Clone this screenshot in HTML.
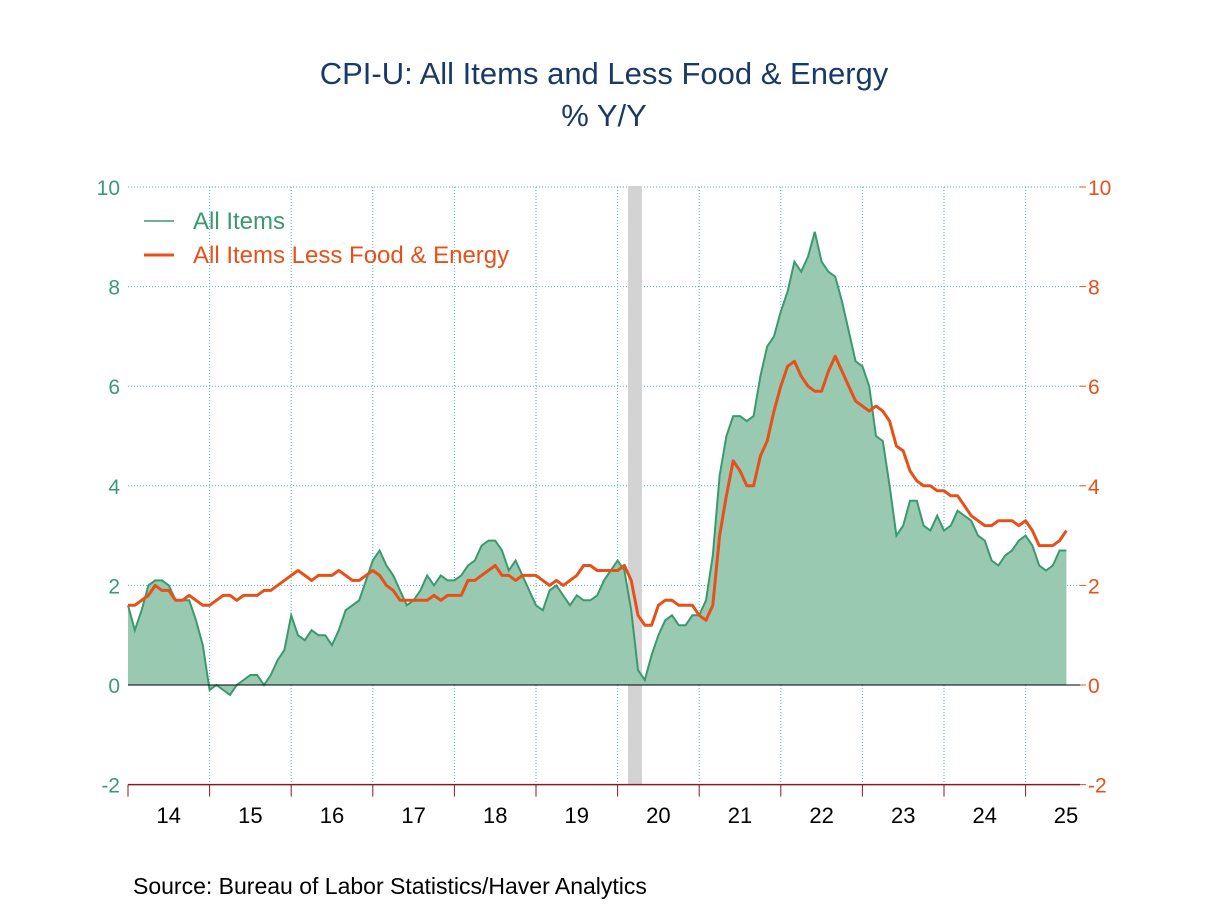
<!DOCTYPE html>
<html><head><meta charset="utf-8"><style>
body{margin:0;background:#fff;}
svg text{font-family:"Liberation Sans",Arial,sans-serif;}
</style></head><body>
<svg id="c" width="1208" height="906" xmlns="http://www.w3.org/2000/svg">
<rect width="1208" height="906" fill="#fff"/>
<text x="604" y="84" text-anchor="middle" font-size="31" fill="#1a3a66">CPI-U: All Items and Less Food &amp; Energy</text>
<text x="604" y="126" text-anchor="middle" font-size="31" fill="#1a3a66">% Y/Y</text>
<g id="grid"></g>
<rect x="628" y="186" width="14" height="599" fill="#d3d3d3"/>
<g id="series"></g>
<g id="axes"></g>
<g>
<line x1="144" y1="221" x2="174" y2="221" stroke="#3a9a6e" stroke-width="1.5"/>
<text x="193" y="229" font-size="24" fill="#3a9a6e">All Items</text>
<line x1="144" y1="255" x2="174" y2="255" stroke="#e8501a" stroke-width="3"/>
<text x="193" y="263" font-size="24" fill="#e8501a">All Items Less Food &amp; Energy</text>
</g>
<text x="133" y="894" font-size="23" fill="#000">Source:  Bureau of Labor Statistics/Haver Analytics</text>
</svg>
<script>
const years=["14","15","16","17","18","19","20","21","22","23","24","25"];
const yTicks=[-2,0,2,4,6,8,10];
const allItems=[1.6,1.1,1.5,2.0,2.1,2.1,2.0,1.7,1.7,1.7,1.3,0.8,
-0.1,0.0,-0.1,-0.2,0.0,0.1,0.2,0.2,0.0,0.2,0.5,0.7,
1.4,1.0,0.9,1.1,1.0,1.0,0.8,1.1,1.5,1.6,1.7,2.1,
2.5,2.7,2.4,2.2,1.9,1.6,1.7,1.9,2.2,2.0,2.2,2.1,
2.1,2.2,2.4,2.5,2.8,2.9,2.9,2.7,2.3,2.5,2.2,1.9,
1.6,1.5,1.9,2.0,1.8,1.6,1.8,1.7,1.7,1.8,2.1,2.3,
2.5,2.3,1.5,0.3,0.1,0.6,1.0,1.3,1.4,1.2,1.2,1.4,
1.4,1.7,2.6,4.2,5.0,5.4,5.4,5.3,5.4,6.2,6.8,7.0,
7.5,7.9,8.5,8.3,8.6,9.1,8.5,8.3,8.2,7.7,7.1,6.5,
6.4,6.0,5.0,4.9,4.0,3.0,3.2,3.7,3.7,3.2,3.1,3.4,
3.1,3.2,3.5,3.4,3.3,3.0,2.9,2.5,2.4,2.6,2.7,2.9,
3.0,2.8,2.4,2.3,2.4,2.7,2.7];
const coreItems=[1.6,1.6,1.7,1.8,2.0,1.9,1.9,1.7,1.7,1.8,1.7,1.6,
1.6,1.7,1.8,1.8,1.7,1.8,1.8,1.8,1.9,1.9,2.0,2.1,
2.2,2.3,2.2,2.1,2.2,2.2,2.2,2.3,2.2,2.1,2.1,2.2,
2.3,2.2,2.0,1.9,1.7,1.7,1.7,1.7,1.7,1.8,1.7,1.8,
1.8,1.8,2.1,2.1,2.2,2.3,2.4,2.2,2.2,2.1,2.2,2.2,
2.2,2.1,2.0,2.1,2.0,2.1,2.2,2.4,2.4,2.3,2.3,2.3,
2.3,2.4,2.1,1.4,1.2,1.2,1.6,1.7,1.7,1.6,1.6,1.6,
1.4,1.3,1.6,3.0,3.8,4.5,4.3,4.0,4.0,4.6,4.9,5.5,
6.0,6.4,6.5,6.2,6.0,5.9,5.9,6.3,6.6,6.3,6.0,5.7,
5.6,5.5,5.6,5.5,5.3,4.8,4.7,4.3,4.1,4.0,4.0,3.9,
3.9,3.8,3.8,3.6,3.4,3.3,3.2,3.2,3.3,3.3,3.3,3.2,
3.3,3.1,2.8,2.8,2.8,2.9,3.1];
const NS="http://www.w3.org/2000/svg";
const X0=128,XW=81.6,Y0=685,YU=49.8,XR=1080;
const x=i=>X0+i*XW/12;
const y=v=>Y0-v*YU;
function mk(t,a,p){const e=document.createElementNS(NS,t);for(const k in a)e.setAttribute(k,a[k]);p.appendChild(e);return e;}
const grid=document.getElementById('grid'),axes=document.getElementById('axes'),ser=document.getElementById('series');
yTicks.forEach(v=>{
 if(v!==0&&v!==-2){const g=mk('line',{x1:X0,x2:XR,y1:y(v),y2:y(v),stroke:'#4fb3c8','stroke-width':1,'stroke-dasharray':'1,2'},grid);
 
 }
 const l=mk('text',{x:120,y:y(v)+8,'text-anchor':'end','font-size':21,fill:'#3a9a7a'},axes);l.textContent=v;
 
 
 const r=mk('text',{x:1088,y:y(v)+8,'font-size':21,fill:'#e8501a'},axes);r.textContent=v;
 
 
 mk('line',{x1:XR,x2:XR+6,y1:y(v),y2:y(v),stroke:'#e8501a'},axes);
});
years.forEach((yr,k)=>{
 const xs=X0+k*XW;
 if(k>0){const g=mk('line',{x1:xs,x2:xs,y1:y(10),y2:y(-2),stroke:'#4fb3c8','stroke-width':1,'stroke-dasharray':'1,2'},grid);
 
 }
 mk('line',{x1:xs,x2:xs,y1:y(-2),y2:y(-2)+12,stroke:'#8b1a1a'},axes);
 const t=mk('text',{x:Math.min(xs+XW/2,1066),y:823,'text-anchor':'middle','font-size':22,fill:'#000'},axes);t.textContent=yr;
 
 
});
let d='M'+x(0)+','+y(0);
allItems.forEach((v,i)=>d+=' L'+x(i).toFixed(1)+','+y(v).toFixed(1));
d+=' L'+x(allItems.length-1)+','+y(0)+' Z';
const area=mk('path',{d:d,fill:'#99c9b1',stroke:'none'},ser);


const al=mk('polyline',{points:allItems.map((v,i)=>x(i).toFixed(1)+','+y(v).toFixed(1)).join(' '),fill:'none',stroke:'#3a9a6e','stroke-width':2},ser);


const zl=mk('line',{x1:X0,x2:XR,y1:Y0,y2:Y0,stroke:'#000','stroke-width':1},ser);


const cl=mk('polyline',{points:coreItems.map((v,i)=>x(i).toFixed(1)+','+y(v).toFixed(1)).join(' '),fill:'none',stroke:'#e8501a','stroke-width':3,'stroke-linejoin':'round'},ser);


const bx=mk('line',{x1:X0,x2:XR,y1:y(-2),y2:y(-2),stroke:'#8b1a1a','stroke-width':1.5},axes);


</script>
</body></html>
